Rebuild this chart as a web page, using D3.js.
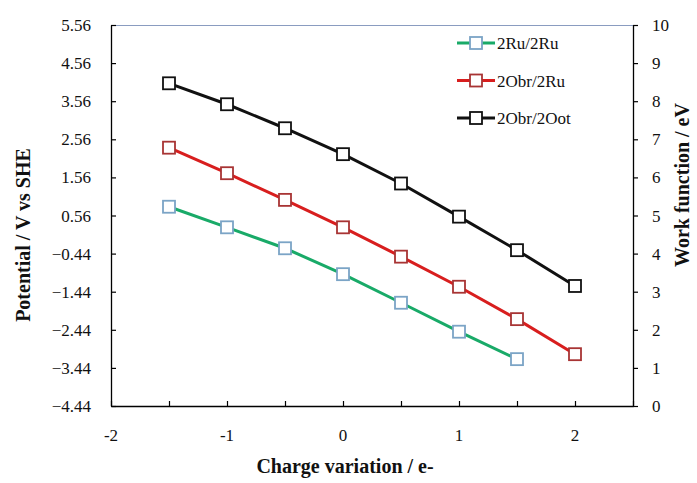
<!DOCTYPE html>
<html>
<head>
<meta charset="utf-8">
<script src="https://cdn.jsdelivr.net/npm/d3@7"></script>
</head>
<body style="margin:0;padding:0;background:#fff">
<svg id="chart" width="697" height="483" style="display:block"></svg>
<script>
// Charge variation (e-) on the x axis
const charge = [-1.5, -1, -0.5, 0, 0.5, 1, 1.5, 2];

// Potential vs SHE (V) for each surface configuration
const ruRu   = [0.79, 0.25, -0.30, -0.98, -1.73, -2.49, -3.21];
const obrRu  = [2.34, 1.67, 0.97, 0.25, -0.52, -1.31, -2.16, -3.08];
const obrOot = [4.03, 3.48, 2.85, 2.17, 1.40, 0.53, -0.35, -1.29];

const seriesNames = ["2Ru/2Ru", "2Obr/2Ru", "2Obr/2Oot"];

// Axis tick labels
const xTickLabels = [-2, -1, 0, 1, 2];
const leftTickLabels = [5.56, 4.56, 3.56, 2.56, 1.56, 0.56, -0.44, -1.44, -2.44, -3.44, -4.44];
const rightTickLabels = [0, 1, 2, 3, 4, 5, 6, 7, 8, 9, 10];

const svg = d3.select("#chart");
const L = 111, R = 633, T = 25, B = 406;

const x = d3.scaleLinear().domain([-2, 2.5]).range([L, R]);
const yL = d3.scaleLinear().domain([-4.44, 5.56]).range([B, T]);
const yR = d3.scaleLinear().domain([0, 10]).range([B, T]);

const series = [
  { name: seriesNames[0], values: ruRu,   line: "#19aa68", marker: "#7ba4c6" },
  { name: seriesNames[1], values: obrRu,  line: "#d81e1e", marker: "#a83434" },
  { name: seriesNames[2], values: obrOot, line: "#111111", marker: "#111111" }
];

// Serif text helper used for every label
function serifText(parent) {
  return parent.append("text")
    .attr("font-family", "Liberation Serif")
    .style("font-family", "'Liberation Serif'")
    .attr("fill", "#111");
}

// Top border of the plot area
svg.append("line")
  .attr("x1", L).attr("x2", R).attr("y1", T + 0.5).attr("y2", T + 0.5)
  .attr("stroke", "#8a9cc0").attr("stroke-width", 1.2);

// Bottom axis: ticks every 0.5, labels on whole numbers
const xAxis = svg.append("g").attr("transform", `translate(0,${B})`)
  .call(d3.axisBottom(x).tickValues(d3.range(-2, 2.51, 0.5)).tickSize(-5).tickSizeOuter(0).tickFormat(""));
xAxis.select(".domain").attr("stroke", "#000").attr("stroke-width", 1.3);
xAxis.selectAll(".tick line").attr("stroke", "#000").attr("stroke-width", 1.2);

xTickLabels.forEach(d => {
  serifText(svg).attr("x", x(d)).attr("y", B + 35)
    .attr("text-anchor", "middle").attr("font-size", 17).text(d);
});

// Left axis: potential
const yAxisL = svg.append("g").attr("transform", `translate(${L},0)`)
  .call(d3.axisLeft(yL).tickValues(leftTickLabels).tickSize(-5).tickSizeOuter(0).tickFormat(""));
yAxisL.select(".domain").attr("stroke", "#000").attr("stroke-width", 1.3);
yAxisL.selectAll(".tick line").attr("stroke", "#000").attr("stroke-width", 1.2);

leftTickLabels.forEach(d => {
  serifText(svg).attr("x", 91).attr("y", yL(d) + 6)
    .attr("text-anchor", "end").attr("font-size", 17).text(d3.format(".2f")(d));
});

// Right axis: work function
const yAxisR = svg.append("g").attr("transform", `translate(${R},0)`)
  .call(d3.axisRight(yR).tickValues(rightTickLabels).tickSize(5).tickSizeOuter(0).tickFormat(""));
yAxisR.select(".domain").attr("stroke", "#000").attr("stroke-width", 1.3);
yAxisR.selectAll(".tick line").attr("stroke", "#000").attr("stroke-width", 1.2);

rightTickLabels.forEach(d => {
  serifText(svg).attr("x", 652).attr("y", yR(d) + 6)
    .attr("text-anchor", "start").attr("font-size", 17).text(d);
});

// Axis titles
serifText(svg).attr("x", 345).attr("y", 473)
  .attr("text-anchor", "middle").attr("font-size", 20).attr("font-weight", "bold")
  .text("Charge variation / e-");

serifText(svg).attr("transform", "translate(30,235) rotate(-90)")
  .attr("text-anchor", "middle").attr("font-size", 20).attr("font-weight", "bold")
  .text("Potential / V vs SHE");

serifText(svg).attr("transform", "translate(689,185) rotate(-90)")
  .attr("text-anchor", "middle").attr("font-size", 20).attr("font-weight", "bold")
  .text("Work function / eV");

// Series lines and square markers
const line = d3.line().x(d => x(d[0])).y(d => yL(d[1]));
const ms = 12;

series.forEach(s => {
  const pts = s.values.map((v, i) => [charge[i], v]);
  svg.append("path").datum(pts)
    .attr("d", line).attr("fill", "none")
    .attr("stroke", s.line).attr("stroke-width", 3);
  svg.append("g").selectAll("rect").data(pts).join("rect")
    .attr("x", d => x(d[0]) - ms / 2).attr("y", d => yL(d[1]) - ms / 2)
    .attr("width", ms).attr("height", ms)
    .attr("fill", "#fff").attr("stroke", s.marker).attr("stroke-width", 1.8);
});

// Legend
series.forEach((s, i) => {
  const ly = 43 + i * 37.5;
  svg.append("line").attr("x1", 457).attr("x2", 495).attr("y1", ly).attr("y2", ly)
    .attr("stroke", s.line).attr("stroke-width", 3);
  svg.append("rect").attr("x", 476 - ms / 2).attr("y", ly - ms / 2)
    .attr("width", ms).attr("height", ms)
    .attr("fill", "#fff").attr("stroke", s.marker).attr("stroke-width", 1.8);
  serifText(svg).attr("x", 497).attr("y", ly + 6)
    .attr("font-size", 17).text(s.name);
});
</script>
</body>
</html>
